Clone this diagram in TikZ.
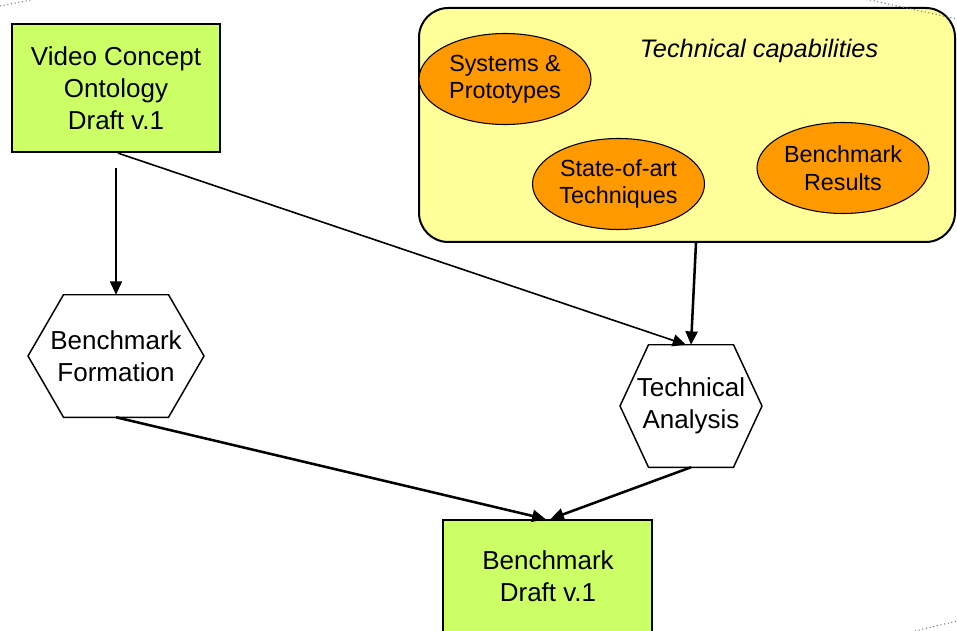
\documentclass[tikz,border=0pt]{standalone}
\usepackage{fontspec}
\setmainfont{Liberation Sans}
\usetikzlibrary{arrows.meta,calc,shapes.geometric}
\definecolor{draftgreen}{HTML}{CCFF66}
\definecolor{capyellow}{HTML}{FFFF99}
\definecolor{techorange}{HTML}{FF9900}

\begin{document}
\begin{tikzpicture}[x=0.75pt,y=-0.75pt,
  mainfont/.style={font=\fontsize{19.5}{24}\selectfont},
  docbox/.style={draw, line width=1.7pt, fill=draftgreen, align=center, mainfont, inner sep=0pt},
  process/.style={align=center, mainfont, minimum height=91.5pt, inner sep=0pt},
  hexline/.style={draw, fill=white, line width=1.1pt},
  topic/.style={ellipse, draw, line width=0.8pt, fill=techorange, minimum width=129pt,
    minimum height=68.25pt, inner sep=0pt, align=center, font=\fontsize{17.5}{20.5}\selectfont},
  flow/.style={-{Triangle[length=10pt,width=9pt]}, line width=1.2pt},
  heavyflow/.style={flow, line width=1.9pt},
  guide/.style={dotted, black!55, line width=0.8pt}
]
\useasboundingbox (0,0) rectangle (957,631);

% technical capabilities panel
\node[draw, line width=1.5pt, fill=capyellow, rounded corners=22pt, minimum width=402pt,
      minimum height=175.5pt, inner sep=0pt] (tc) at (687,125) {};
\node[font=\fontsize{19}{23}\selectfont\itshape] (tclabel) at (759,51) {Technical capabilities};
\node[topic] (sp) at (505,79) {Systems \&\\Prototypes};
\node[topic] (st) at (618.5,184) {State-of-art\\Techniques};
\node[topic] (br) at (843,168) {Benchmark\\Results};

% documents
\node[docbox, minimum width=156pt, minimum height=96pt] (vc) at (116,88)
  {Video Concept\\Ontology\\Draft v.1};
\node[docbox, minimum width=156.75pt, minimum height=97.5pt, anchor=north] (bd) at (547.5,519) {};
\node[align=center, mainfont] (bdtext) at (548,576) {Benchmark\\Draft v.1};

% processes (hexagons)
\node[process] (fb) at (116,356) {};
\draw[hexline] ($(fb.north)+(-52.5,0)$) -- ($(fb.north)+(52.5,0)$) -- ($(fb.center)+(88,0)$)
  -- ($(fb.south)+(52.5,0)$) -- ($(fb.south)+(-52.5,0)$) -- ($(fb.center)+(-88,0)$) -- cycle;
\node[process] at (fb) {Benchmark\\Formation};

\node[process] (ta) at (691,406) {};
\draw[hexline] ($(ta.north)+(-42.5,0)$) -- ($(ta.north)+(42.5,0)$) -- ($(ta.center)+(71,0)$)
  -- ($(ta.south)+(42.5,0)$) -- ($(ta.south)+(-42.5,0)$) -- ($(ta.center)+(-71,0)$) -- cycle;
\node[process] at (ta) {Technical\\Analysis};

% flows
\draw[flow] ($(vc.south)+(0,15)$) -- (fb.north);
\draw[flow] ($(vc.south)+(2,0)$) -- ($(ta.north)+(-5,0)$);
\draw[heavyflow] ($(tc.south)+(9,0)$) -- (ta.north);
\draw[heavyflow] (fb.south) -- ($(bd.north)+(-2,0)$);
\draw[heavyflow] (ta.south) -- ($(bd.north)+(3,0)$);

% dotted outline fragments
\draw[guide] (0,6) -- (31,0);
\draw[guide] (870,0) -- (957,19);
\draw[guide] (915,631) -- (957,621);
\end{tikzpicture}
\end{document}
